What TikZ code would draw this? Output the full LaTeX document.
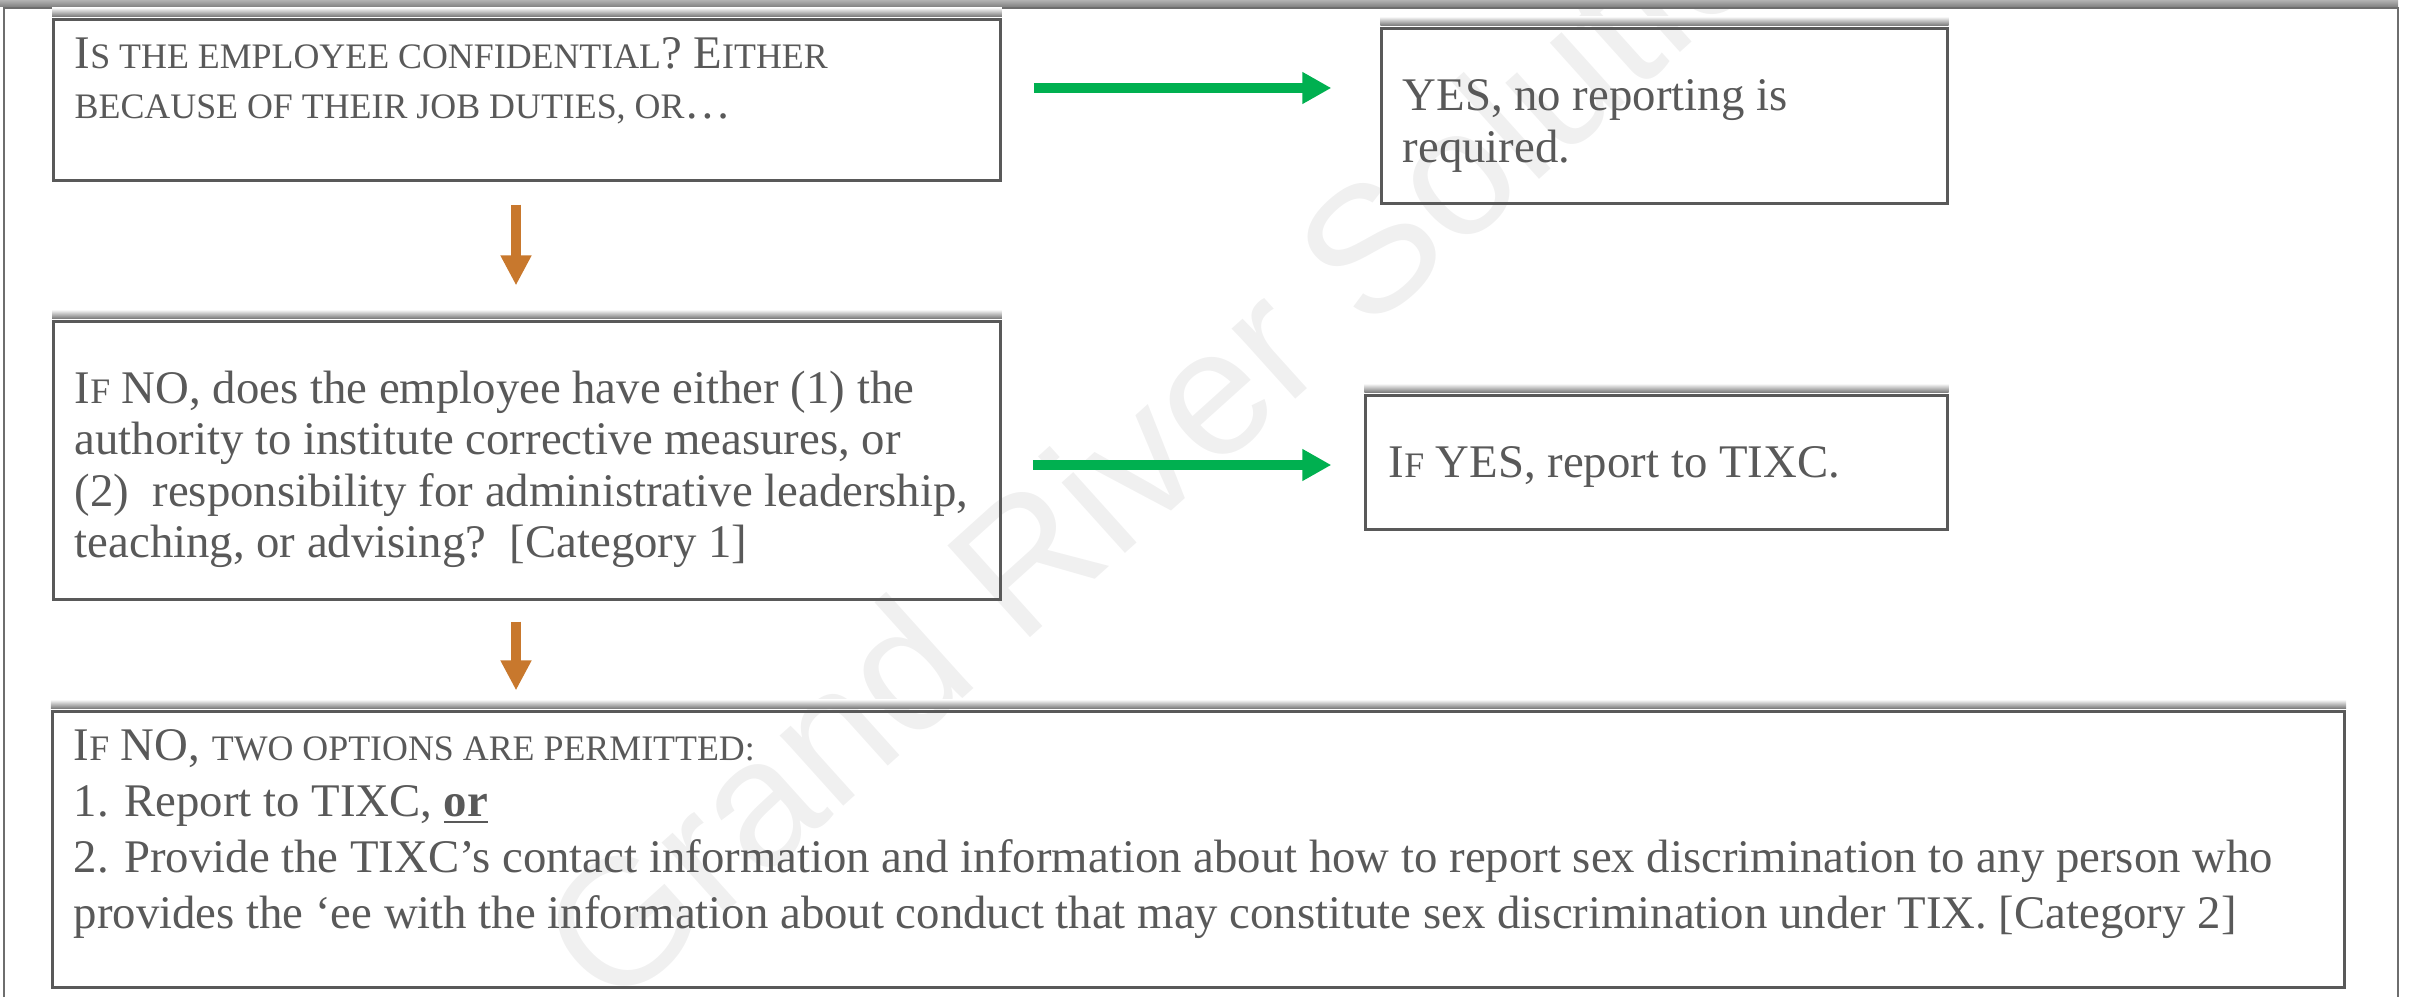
\documentclass[tikz,border=0pt]{standalone}
\usepackage{fontspec}
\setmainfont{Liberation Serif}
\newfontfamily\markfont{Liberation Sans}
\usetikzlibrary{arrows.meta,calc}
\definecolor{boxgray}{RGB}{89,89,89}
\definecolor{txtgray}{RGB}{89,89,89}
\definecolor{framegray}{RGB}{110,110,110}
\definecolor{yesgreen}{RGB}{0,176,80}
\definecolor{noorange}{RGB}{200,120,45}
\newcommand\smcp[1]{{\fontsize{10.2pt}{14.6pt}\selectfont\MakeUppercase{#1}}}
\tikzset{
  box/.style={draw=boxgray, line width=0.03cm, inner sep=0pt},
  txt/.style={anchor=north west, inner sep=0pt, align=left, text=txtgray},
  yesarrow/.style={draw=yesgreen, line width=0.1cm, -{Triangle[length=0.29cm,width=0.30cm]}},
  noarrow/.style={draw=noorange, line width=0.1cm, -{Triangle[length=0.30cm,width=0.29cm]}}
}
\begin{document}
\begin{tikzpicture}[x=0.01cm, y=-0.01cm]
\useasboundingbox (0,0) rectangle (2410,997);
\begin{scope}
\clip (0,0) rectangle (2410,997);
\node[rotate=42, anchor=base west, inner sep=0pt, text=black!6, font=\markfont\fontsize{51}{51}\selectfont] (mark) at (612,1015) {Grand River Solutions};
\end{scope}
\shade[top color=black!30, bottom color=black!50] (0,0) rectangle (2398,7);
\draw[framegray, line width=0.02cm] (4,997) -- (4,8) -- (2398,8) -- (2398,997);
\node[box, minimum width=9.46cm, minimum height=1.60cm] (b1) at (527,100) {};
\node[box, minimum width=5.65cm, minimum height=1.74cm] (b2) at (1664.5,116) {};
\node[box, minimum width=9.46cm, minimum height=2.77cm] (b3) at (527,460.5) {};
\node[box, minimum width=5.81cm, minimum height=1.33cm] (b4) at (1656.5,462.5) {};
\node[box, minimum width=22.91cm, minimum height=2.75cm] (b5) at (1198.5,849.5) {};
\foreach \b in {b1,b2,b3,b4,b5}
  \shade[top color=white, bottom color=black!55] ([yshift=0.11cm]\b.north west) rectangle ([yshift=0.015cm]\b.north east);
\node[txt, font=\fontsize{13.3}{14.2}\selectfont] (t1) at (74,33)
  {\strut I\smcp{s the employee confidential}? E\smcp{ither}\\\smcp{because of their job duties, or}\ldots};
\node[txt, font=\fontsize{13.3}{14.8}\selectfont] (t2) at (1402,73.5)
  {\strut YES, no reporting is\\required.};
\node[txt, font=\fontsize{13.3}{14.6}\selectfont] (t3) at (74,367)
  {\strut I\smcp{f} NO, does the employee have either (1) the\\
   authority to institute corrective measures, or\\
   (2)\ \ responsibility for administrative leadership,\\
   teaching, or advising?\ \ [Category 1]};
\node[txt, font=\fontsize{13.3}{14.5}\selectfont] (t4) at (1388,441)
  {\strut I\smcp{f} YES, report to TIXC.};
\node[txt, font=\fontsize{13.3}{15.9}\selectfont] (t5) at (73,721)
  {\strut I\smcp{f} NO, \smcp{two options are permitted:}\\
   1. Report to TIXC, \underline{\textbf{or}}\\
   2. Provide the TIXC's contact information and information about how to report sex discrimination to any person who\\
   provides the `ee with the information about conduct that may constitute sex discrimination under TIX. [Category 2]};
\draw[yesarrow] ([shift={(32,-12)}]b1.east) -- ([shift={(-49,-28)}]b2.west);
\draw[yesarrow] ([shift={(31,4.5)}]b3.east) -- ([shift={(-33,2.5)}]b4.west);
\draw[noarrow] ([shift={(-11,23)}]b1.south) -- ([shift={(-11,-35)}]b3.north);
\draw[noarrow] ([shift={(-11,21)}]b3.south) -- ($(b3.south |- b5.north)+(-11,-20)$);
\end{tikzpicture}
\end{document}
